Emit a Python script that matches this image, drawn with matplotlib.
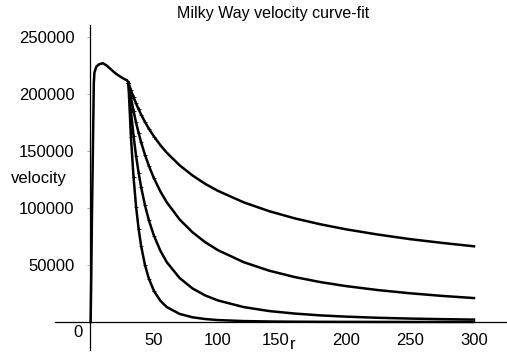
import numpy as np
import matplotlib
matplotlib.use("Agg")
import matplotlib.pyplot as plt
from matplotlib.transforms import offset_copy

plt.rcParams['font.family'] = ['Liberation Sans', 'DejaVu Sans']

# rising part of the rotation curve (r, velocity)
r_rise = [0.5, 1, 1.5, 2, 2.5, 3, 3.5, 5, 7, 10, 13, 16, 20, 24, 27, 29, 30]
v_rise = [0, 40000, 90000, 130000, 170000, 210000, 219000, 224000, 226000,
          227000, 225000, 222000, 218000, 215000, 213000, 212000, 210000]

# the four fitted tails beyond r = 30
r_tail = [30, 32, 34, 36, 38, 40, 43, 46, 50, 55, 60, 70, 80, 90, 100,
          120, 140, 160, 180, 200, 225, 250, 275, 300]
v_a = [210000, 203300, 197300, 191700, 186600, 181900, 175400, 169600, 162700,
       155100, 148500, 137500, 128600, 121200, 115000, 105000, 97200, 90900,
       85700, 81300, 76700, 72700, 69400, 66400]
v_b = [210000, 196900, 185300, 175000, 165800, 157500, 146500, 137000, 126000,
       114500, 105000, 90000, 78800, 70000, 63000, 52500, 45000, 39400,
       35000, 31500, 28000, 25200, 22900, 21000]
v_c = [210000, 184600, 163500, 145800, 130900, 118100, 102200, 89300, 75600,
       62500, 52500, 38600, 29500, 23300, 18900, 13100, 9600, 7400,
       5800, 4700, 3700, 3000, 2500, 2100]
v_d = [210000, 162200, 127300, 101300, 81600, 66400, 49800, 38000, 27200,
       18600, 13100, 7100, 4150, 2600, 1700, 820, 440, 260,
       160, 110, 70, 40, 30, 20]

xticks = [50, 100, 150, 200, 250, 300]
yticks = [50000, 100000, 150000, 200000, 250000]

fig = plt.figure(figsize=(5.07, 3.54), dpi=100)
ax = fig.add_axes([0, 0, 1, 1])

ax.plot(r_rise, v_rise, color='black', lw=1.8)
for v in [v_a, v_b, v_c, v_d]:
    ax.plot(r_tail, v, color='black', lw=1.8, marker='+', ms=2.5, mew=0.6,
            markevery=slice(0, 9))

ax.set_xlim(-70.3, 325.8)
ax.set_ylim(-28070, 282456)

# axes crossing at the origin, maple style
for s in ['top', 'right']:
    ax.spines[s].set_visible(False)
ax.spines['left'].set_position(('data', 0))
ax.spines['bottom'].set_position(('data', 0))
ax.spines['left'].set_bounds(-24500, 260500)
ax.spines['bottom'].set_bounds(-27, 326)
ax.spines['left'].set_linewidth(0.9)
ax.spines['bottom'].set_linewidth(0.9)

ax.set_xticks(xticks)
ax.set_yticks(yticks)
ax.set_xticklabels([str(t) for t in xticks])
ax.set_yticklabels([str(t) for t in yticks])
ax.tick_params(axis='y', length=2, width=0.6, color='#999999', pad=9, labelsize=12)
ax.tick_params(axis='x', length=0, pad=8, labelsize=12)

# the "150" label sits a little left to leave room for the axis name
lab = ax.get_xticklabels()[2]
lab.set_transform(offset_copy(lab.get_transform(), fig=fig, x=-6, y=0, units='dots'))

ax.text(-9, -9500, '0', fontsize=12, ha='center', va='center')
ax.text(-40, 126000, 'velocity', fontsize=12, ha='center', va='center')
ax.text(158, -20000, 'r', fontsize=12, ha='center', va='center')
ax.text(143, 270500, 'Milky Way velocity curve-fit', fontsize=11.5, ha='center', va='center')

fig.savefig('out.png', dpi=100)
